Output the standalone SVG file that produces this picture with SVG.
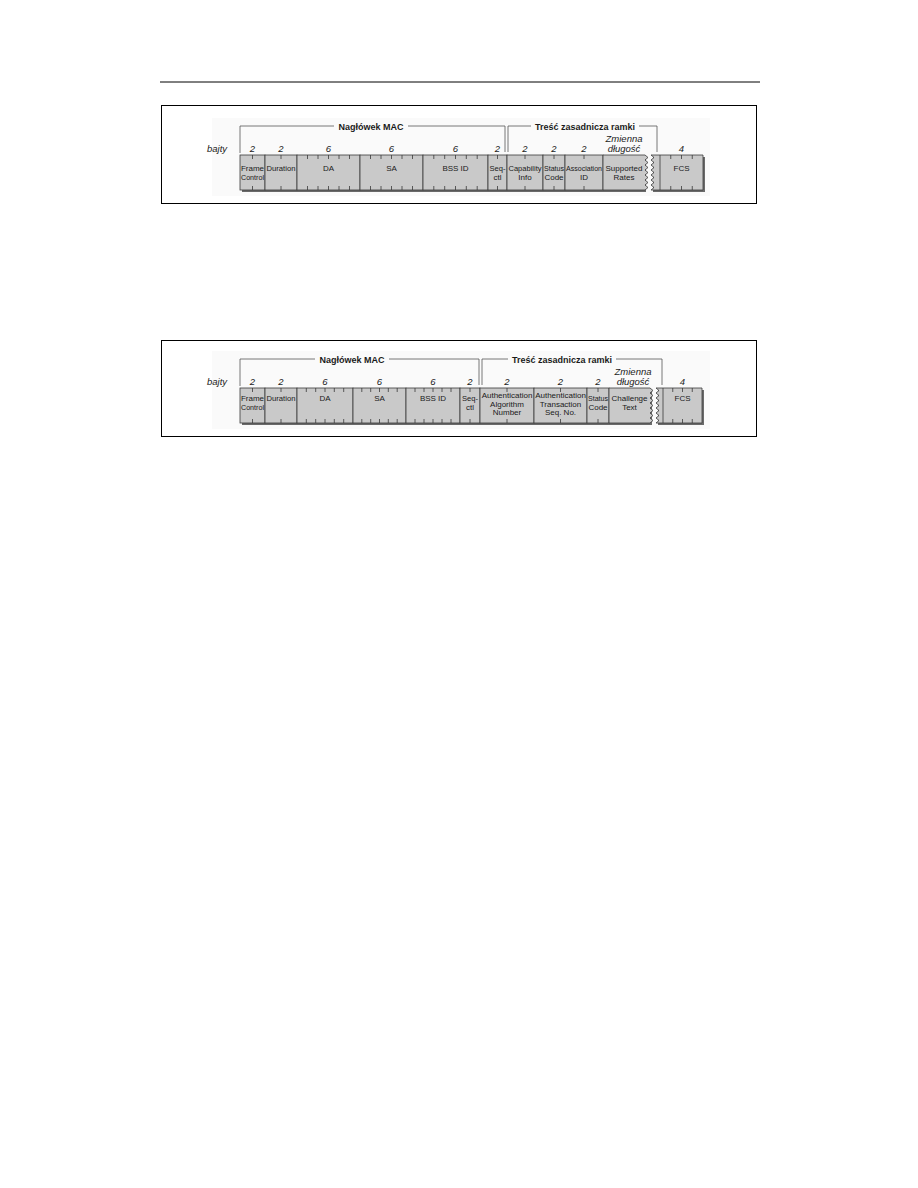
<svg xmlns="http://www.w3.org/2000/svg" width="918" height="1188" viewBox="0 0 918 1188">
<style>
text{font-family:"Liberation Sans",Arial,sans-serif;fill:#1a1a1a;text-anchor:middle}
.t{font-size:9px;font-weight:bold}
.n{font-size:9.5px;font-style:italic}
.l{font-size:8px}
.f{fill:#c9c9c9;stroke:#3a3a3a;stroke-width:0.8}
.k{fill:none;stroke:#3a3a3a;stroke-width:0.8}
.b{fill:none;stroke:#555;stroke-width:0.8}
.s{fill:#6a6a6a}
.bg{fill:#fafafa}
.frame{fill:#fff;stroke:#000;stroke-width:1}
</style>
<rect width="918" height="1188" fill="#fff"/>
<line x1="160" y1="82" x2="760" y2="82" stroke="#000" stroke-width="1"/>

<!-- ===== Frame 1 ===== -->
<g id="frame1">
<rect class="frame" x="161.5" y="105.5" width="595" height="98"/>
<rect class="bg" x="212" y="118" width="498" height="78"/>
<text class="n" x="217" y="152">bajty</text>
<g id="f1-brackets" class="b">
<path d="M240,153 V126 H334 M408,126 H505 V152"/>
<path d="M508,152 V126 H531 M639,126 H657 V152"/>
</g>
<text class="t" x="371" y="129.5">Nagłówek MAC</text>
<text class="t" x="585" y="129.5">Treść zasadnicza ramki</text>
<g id="f1-sizes">
<text class="n" x="252.5" y="152">2</text>
<text class="n" x="281" y="152">2</text>
<text class="n" x="328.5" y="152">6</text>
<text class="n" x="391.5" y="152">6</text>
<text class="n" x="455.5" y="152">6</text>
<text class="n" x="497.5" y="152">2</text>
<text class="n" x="525" y="152">2</text>
<text class="n" x="554" y="152">2</text>
<text class="n" x="584" y="152">2</text>
<text class="n" x="624" y="142">Zmienna</text>
<text class="n" x="624" y="152">długość</text>
<text class="n" x="681.5" y="152">4</text>
</g>
<g id="f1-shadow" class="s">
<rect x="242" y="157" width="404" height="35"/>
<rect x="653" y="157" width="52" height="35"/>
</g>
<g id="f1-frame-control"><rect class="f" x="240" y="155" width="25" height="35"/><path class="k" d="M252.5,155v4M252.5,186v4"/><text class="l" x="252.5" y="171">Frame</text><text class="l" x="252.5" y="180" textLength="23" lengthAdjust="spacingAndGlyphs">Control</text></g>
<g id="f1-duration"><rect class="f" x="265" y="155" width="32" height="35"/><path class="k" d="M281,155v4M281,186v4"/><text class="l" x="281" y="171" textLength="29" lengthAdjust="spacingAndGlyphs">Duration</text></g>
<g id="f1-da"><rect class="f" x="297" y="155" width="63" height="35"/><path class="k" d="M307.5,155v4M318,155v4M328.5,155v4M339,155v4M349.5,155v4M307.5,186v4M318,186v4M328.5,186v4M339,186v4M349.5,186v4"/><text class="l" x="328.5" y="171">DA</text></g>
<g id="f1-sa"><rect class="f" x="360" y="155" width="63" height="35"/><path class="k" d="M370.5,155v4M381,155v4M391.5,155v4M402,155v4M412.5,155v4M370.5,186v4M381,186v4M391.5,186v4M402,186v4M412.5,186v4"/><text class="l" x="391.5" y="171">SA</text></g>
<g id="f1-bssid"><rect class="f" x="423" y="155" width="65" height="35"/><path class="k" d="M433.8,155v4M444.7,155v4M455.5,155v4M466.3,155v4M477.2,155v4M433.8,186v4M444.7,186v4M455.5,186v4M466.3,186v4M477.2,186v4"/><text class="l" x="455.5" y="171">BSS ID</text></g>
<g id="f1-seqctl"><rect class="f" x="488" y="155" width="19" height="35"/><path class="k" d="M497.5,155v4M497.5,186v4"/><text class="l" x="497.5" y="171" textLength="16" lengthAdjust="spacingAndGlyphs">Seq-</text><text class="l" x="497.5" y="180">ctl</text></g>
<g id="f1-capability"><rect class="f" x="507" y="155" width="36" height="35"/><path class="k" d="M525,155v4M525,186v4"/><text class="l" x="525" y="171" textLength="33" lengthAdjust="spacingAndGlyphs">Capability</text><text class="l" x="525" y="180">Info</text></g>
<g id="f1-status"><rect class="f" x="543" y="155" width="22" height="35"/><path class="k" d="M554,155v4M554,186v4"/><text class="l" x="554" y="171" textLength="20" lengthAdjust="spacingAndGlyphs">Status</text><text class="l" x="554" y="180">Code</text></g>
<g id="f1-association"><rect class="f" x="565" y="155" width="38" height="35"/><path class="k" d="M584,155v4M584,186v4"/><text class="l" x="584" y="171" textLength="36" lengthAdjust="spacingAndGlyphs">Association</text><text class="l" x="584" y="180">ID</text></g>
<g id="f1-rates"><path class="f" d="M603,155H645L648,157.5L645,160L648,162.5L645,165L648,167.5L645,170L648,172.5L645,175L648,177.5L645,180L648,182.5L645,185L648,187.5L645,190H603Z"/><text class="l" x="624" y="171">Supported</text><text class="l" x="624" y="180">Rates</text></g>
<g id="f1-fcs"><path class="f" d="M651,155H703V190H651L654,187.5L651,185L654,182.5L651,180L654,177.5L651,175L654,172.5L651,170L654,167.5L651,165L654,162.5L651,160L654,157.5Z"/><path class="k" d="M660,155V190M670.75,155v4M681.5,155v4M692.25,155v4M670.75,186v4M681.5,186v4M692.25,186v4"/><text class="l" x="681.5" y="171">FCS</text></g>
</g>

<!-- ===== Frame 2 ===== -->
<g id="frame2">
<rect class="frame" x="161.5" y="340.5" width="595" height="96"/>
<rect class="bg" x="212" y="351" width="498" height="78"/>
<text class="n" x="217" y="385">bajty</text>
<g id="f2-brackets" class="b">
<path d="M240,386 V359 H315 M389,359 H479 V385"/>
<path d="M482,385 V359 H508 M616,359 H662 V385"/>
</g>
<text class="t" x="352" y="362.5">Nagłówek MAC</text>
<text class="t" x="562" y="362.5">Treść zasadnicza ramki</text>
<g id="f2-sizes">
<text class="n" x="252.5" y="385">2</text>
<text class="n" x="281" y="385">2</text>
<text class="n" x="325" y="385">6</text>
<text class="n" x="379.5" y="385">6</text>
<text class="n" x="433" y="385">6</text>
<text class="n" x="470" y="385">2</text>
<text class="n" x="507" y="385">2</text>
<text class="n" x="560.5" y="385">2</text>
<text class="n" x="598" y="385">2</text>
<text class="n" x="633" y="375">Zmienna</text>
<text class="n" x="633" y="385">długość</text>
<text class="n" x="682.5" y="385">4</text>
</g>
<g id="f2-shadow" class="s">
<rect x="242" y="390" width="410" height="35"/>
<rect x="658" y="390" width="46" height="35"/>
</g>
<g id="f2-frame-control"><rect class="f" x="240" y="388" width="25" height="35"/><path class="k" d="M252.5,388v4M252.5,419v4"/><text class="l" x="252.5" y="401">Frame</text><text class="l" x="252.5" y="410" textLength="23" lengthAdjust="spacingAndGlyphs">Control</text></g>
<g id="f2-duration"><rect class="f" x="265" y="388" width="32" height="35"/><path class="k" d="M281,388v4M281,419v4"/><text class="l" x="281" y="401" textLength="29" lengthAdjust="spacingAndGlyphs">Duration</text></g>
<g id="f2-da"><rect class="f" x="297" y="388" width="56" height="35"/><path class="k" d="M306.3,388v4M315.7,388v4M325,388v4M334.3,388v4M343.7,388v4M306.3,419v4M315.7,419v4M325,419v4M334.3,419v4M343.7,419v4"/><text class="l" x="325" y="401">DA</text></g>
<g id="f2-sa"><rect class="f" x="353" y="388" width="53" height="35"/><path class="k" d="M361.8,388v4M370.7,388v4M379.5,388v4M388.3,388v4M397.2,388v4M361.8,419v4M370.7,419v4M379.5,419v4M388.3,419v4M397.2,419v4"/><text class="l" x="379.5" y="401">SA</text></g>
<g id="f2-bssid"><rect class="f" x="406" y="388" width="54" height="35"/><path class="k" d="M415,388v4M424,388v4M433,388v4M442,388v4M451,388v4M415,419v4M424,419v4M433,419v4M442,419v4M451,419v4"/><text class="l" x="433" y="401">BSS ID</text></g>
<g id="f2-seqctl"><rect class="f" x="460" y="388" width="20" height="35"/><path class="k" d="M470,388v4M470,419v4"/><text class="l" x="470" y="401" textLength="16" lengthAdjust="spacingAndGlyphs">Seq-</text><text class="l" x="470" y="410">ctl</text></g>
<g id="f2-auth-alg"><rect class="f" x="480" y="388" width="54" height="35"/><path class="k" d="M507,388v4M507,419v4"/><text class="l" x="507" y="398">Authentication</text><text class="l" x="507" y="406.5">Algorithm</text><text class="l" x="507" y="415">Number</text></g>
<g id="f2-auth-trans"><rect class="f" x="534" y="388" width="53" height="35"/><path class="k" d="M560.5,388v4M560.5,419v4"/><text class="l" x="560.5" y="398">Authentication</text><text class="l" x="560.5" y="406.5">Transaction</text><text class="l" x="560.5" y="415">Seq. No.</text></g>
<g id="f2-status"><rect class="f" x="587" y="388" width="22" height="35"/><path class="k" d="M598,388v4M598,419v4"/><text class="l" x="598" y="401" textLength="20" lengthAdjust="spacingAndGlyphs">Status</text><text class="l" x="598" y="410">Code</text></g>
<g id="f2-challenge"><path class="f" d="M609,388H650L653,390.5L650,393L653,395.5L650,398L653,400.5L650,403L653,405.5L650,408L653,410.5L650,413L653,415.5L650,418L653,420.5L650,423H609Z"/><text class="l" x="629.5" y="401">Challenge</text><text class="l" x="629.5" y="410">Text</text></g>
<g id="f2-fcs"><path class="f" d="M656,388H702V423H656L659,420.5L656,418L659,415.5L656,413L659,410.5L656,408L659,405.5L656,403L659,400.5L656,398L659,395.5L656,393L659,390.5Z"/><path class="k" d="M663,388V423M672.75,388v4M682.5,388v4M692.25,388v4M672.75,419v4M682.5,419v4M692.25,419v4"/><text class="l" x="682.5" y="401">FCS</text></g>
</g>
</svg>
